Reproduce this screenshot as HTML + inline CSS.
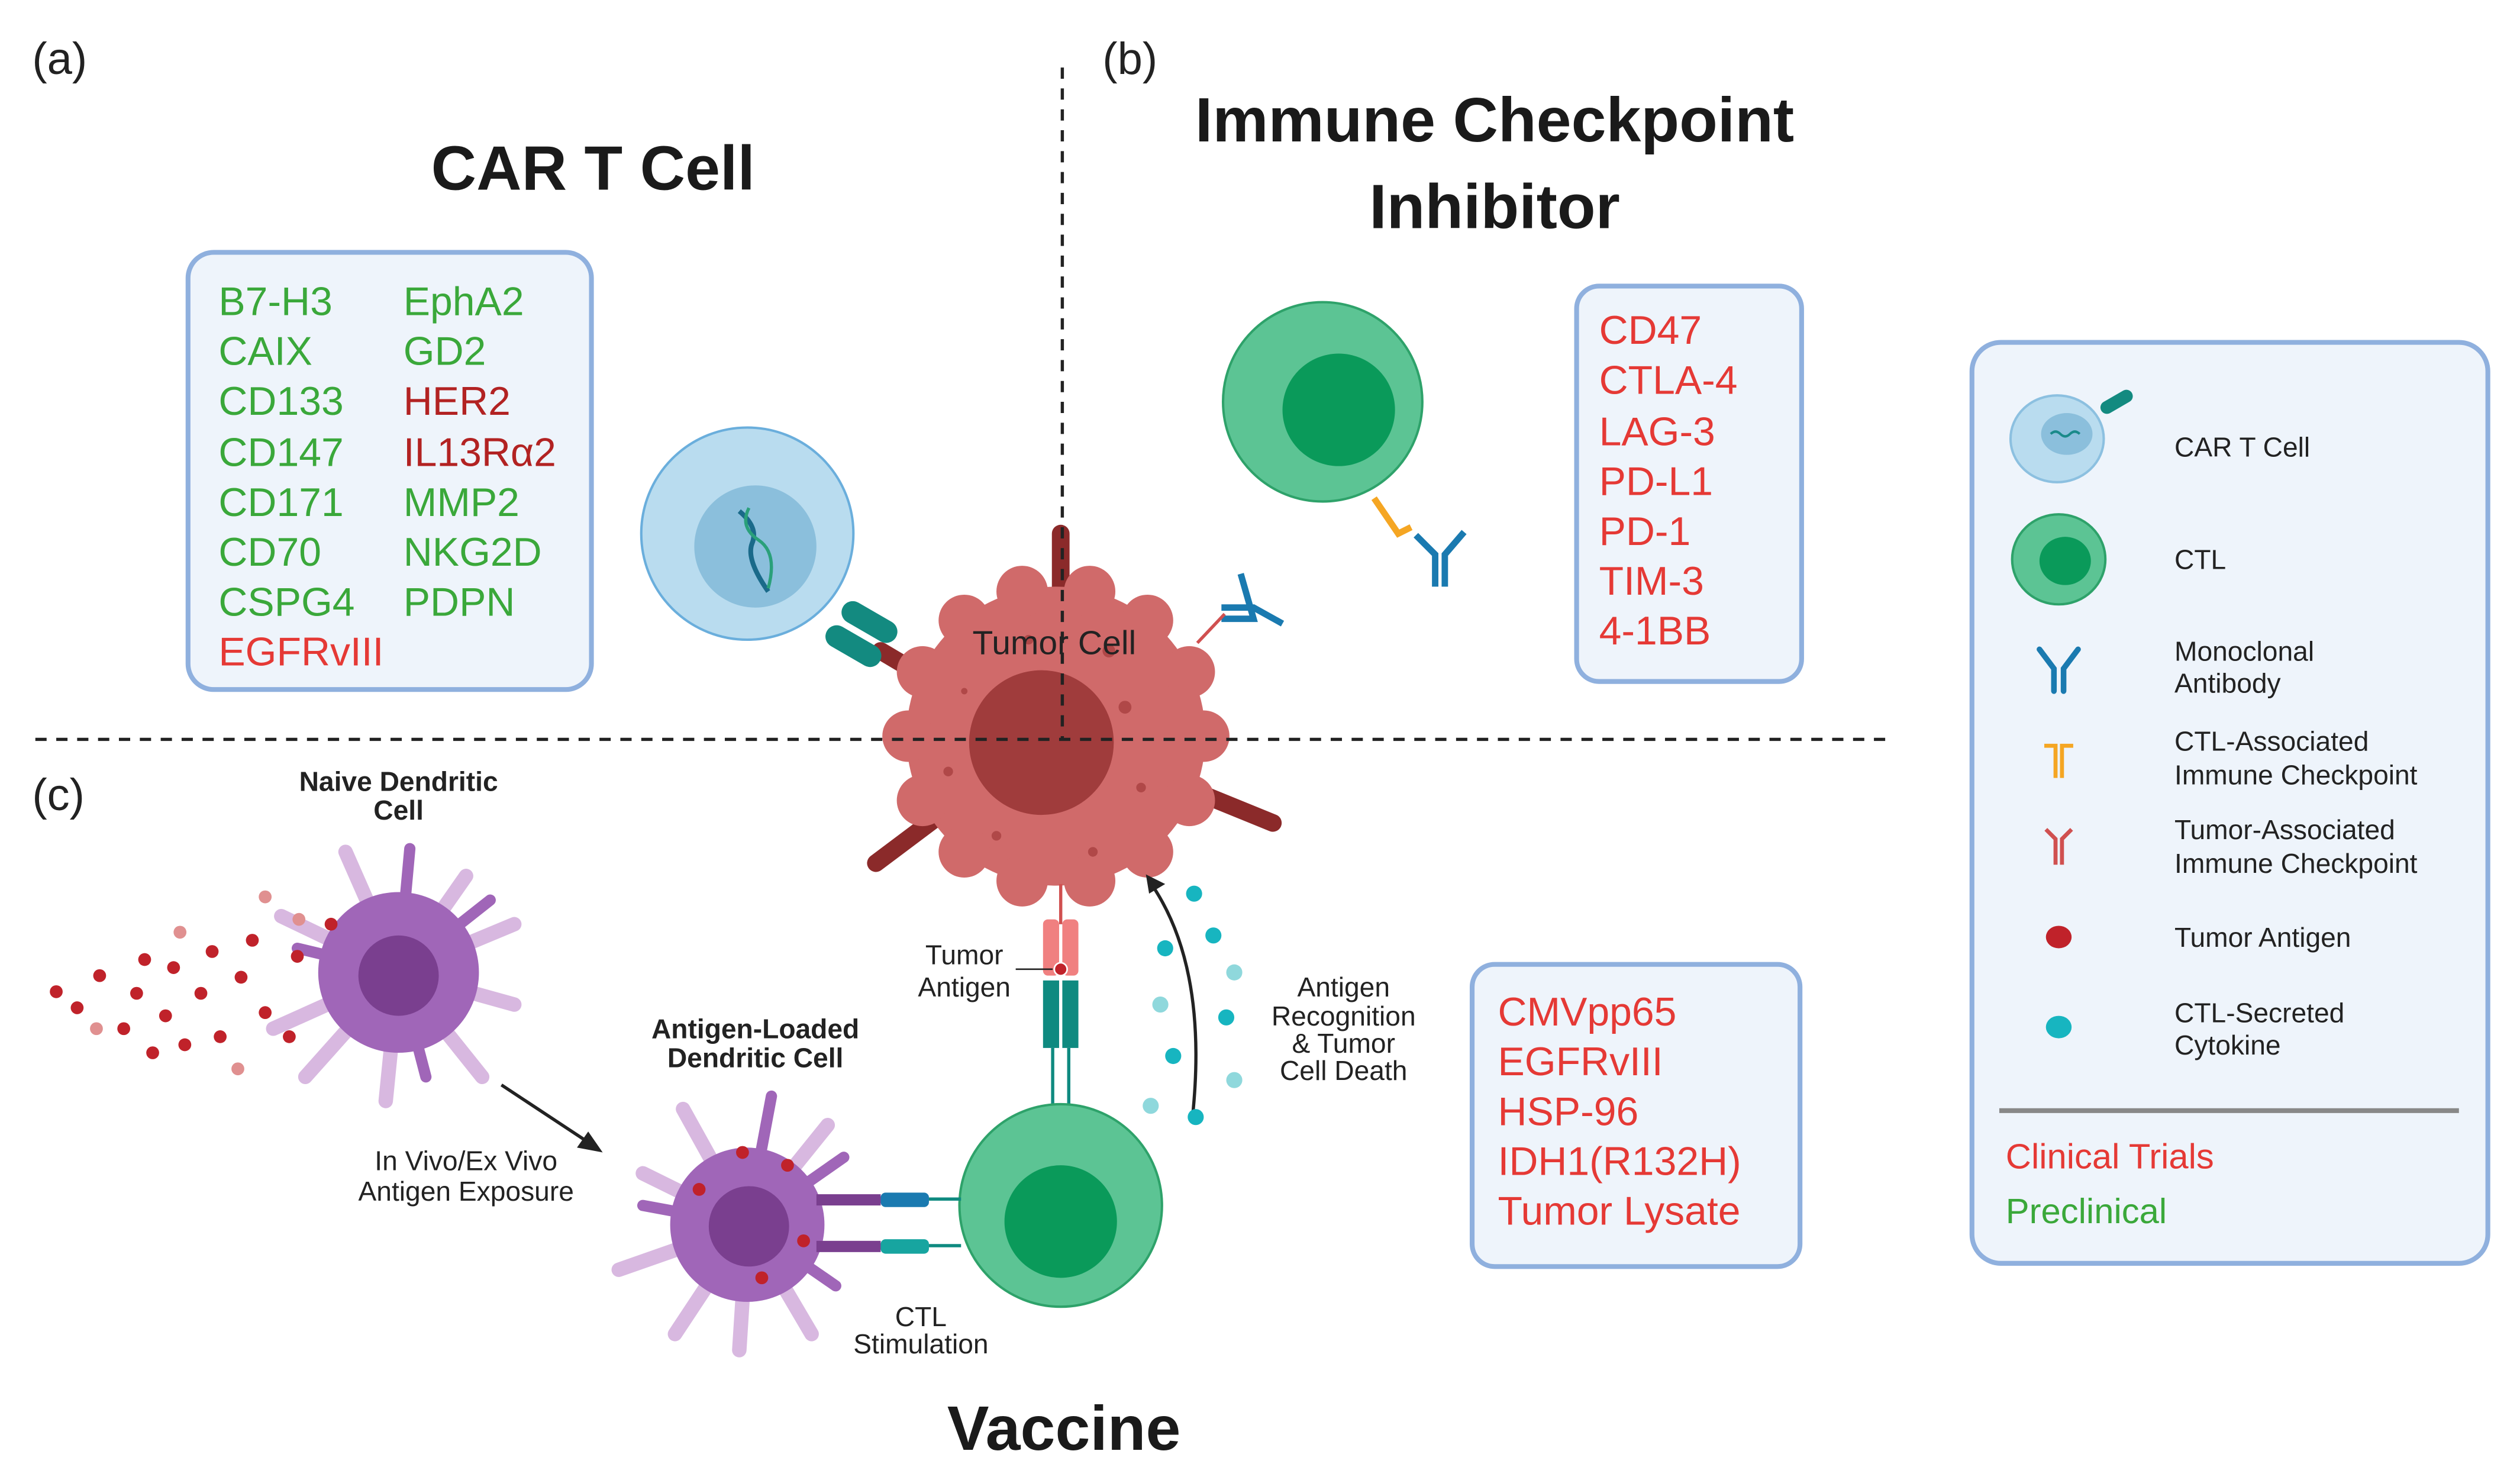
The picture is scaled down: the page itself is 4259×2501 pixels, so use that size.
<!DOCTYPE html>
<html><head><meta charset="utf-8"><style>
html,body{margin:0;padding:0;background:#fff;}
svg{display:block;}
text{font-family:"Liberation Sans",sans-serif;}
</style></head><body>
<svg width="4259" height="2501" viewBox="0 0 1568 920.8" preserveAspectRatio="none" xmlns="http://www.w3.org/2000/svg">
<rect width="1568" height="921" fill="#fff"/>

<text x="20" y="46" font-size="28" fill="#222">(a)</text>
<text x="686" y="46" font-size="28" fill="#222">(b)</text>
<text x="20" y="504" font-size="28" fill="#222">(c)</text>

<text x="369" y="118" font-size="39" font-weight="bold" fill="#1a1a1a" text-anchor="middle">CAR T Cell</text>
<text x="930" y="88" font-size="39" font-weight="bold" fill="#1a1a1a" text-anchor="middle">Immune Checkpoint</text>
<text x="930" y="142" font-size="39" font-weight="bold" fill="#1a1a1a" text-anchor="middle">Inhibitor</text>
<text x="662" y="902" font-size="39" font-weight="bold" fill="#1a1a1a" text-anchor="middle">Vaccine</text>

<rect x="117" y="157" width="251" height="272" rx="16" fill="#eef4fb" stroke="#8fb0de" stroke-width="3"/>
<g font-size="25">
<text x="136" y="196" fill="#3aa83a">B7-H3</text>
<text x="136" y="227" fill="#3aa83a">CAIX</text>
<text x="136" y="258" fill="#3aa83a">CD133</text>
<text x="136" y="290" fill="#3aa83a">CD147</text>
<text x="136" y="321" fill="#3aa83a">CD171</text>
<text x="136" y="352" fill="#3aa83a">CD70</text>
<text x="136" y="383" fill="#3aa83a">CSPG4</text>
<text x="136" y="414" fill="#e53935">EGFRvIII</text>
<text x="251" y="196" fill="#3aa83a">EphA2</text>
<text x="251" y="227" fill="#3aa83a">GD2</text>
<text x="251" y="258" fill="#b22222">HER2</text>
<text x="251" y="290" fill="#b22222">IL13Rα2</text>
<text x="251" y="321" fill="#3aa83a">MMP2</text>
<text x="251" y="352" fill="#3aa83a">NKG2D</text>
<text x="251" y="383" fill="#3aa83a">PDPN</text>
</g>

<rect x="981" y="178" width="140" height="246" rx="14" fill="#eef4fb" stroke="#8fb0de" stroke-width="3"/>
<g font-size="25" fill="#e53935">
<text x="995" y="214">CD47</text>
<text x="995" y="245">CTLA-4</text>
<text x="995" y="277">LAG-3</text>
<text x="995" y="308">PD-L1</text>
<text x="995" y="339">PD-1</text>
<text x="995" y="370">TIM-3</text>
<text x="995" y="401">4-1BB</text>
</g>

<rect x="916" y="600" width="204" height="188" rx="14" fill="#eef4fb" stroke="#8fb0de" stroke-width="3"/>
<g font-size="25" fill="#e53935">
<text x="932" y="638">CMVpp65</text>
<text x="932" y="669">EGFRvIII</text>
<text x="932" y="700">HSP-96</text>
<text x="932" y="731">IDH1(R132H)</text>
<text x="932" y="762">Tumor Lysate</text>
</g>

<rect x="1227" y="213" width="321" height="573" rx="18" fill="#eef4fb" stroke="#8fb0de" stroke-width="3"/>
<ellipse cx="1280" cy="273" rx="29" ry="27" fill="#b9dcef" stroke="#8cc0e0" stroke-width="1.5"/>
<ellipse cx="1286" cy="270" rx="16" ry="13" fill="#8bbfdc"/>
<path d="M1276 270 q3 -3 6 0 t6 0 t6 0" stroke="#1a8a8a" stroke-width="1.5" fill="none"/>
<rect x="1306" y="246" width="22" height="8" rx="4" fill="#138a80" transform="rotate(-30 1317 250)"/>
<text x="1353" y="284" font-size="17" fill="#222">CAR T Cell</text>
<ellipse cx="1281" cy="348" rx="29" ry="28" fill="#5cc494" stroke="#2ea26a" stroke-width="1.5"/>
<ellipse cx="1285" cy="349" rx="16" ry="15" fill="#0a9a5a"/>
<text x="1353" y="354" font-size="17" fill="#222">CTL</text>
<g stroke="#1a7ab0" stroke-width="3.5" fill="none" stroke-linecap="round">
<path d="M1278 430 v-14 l-9 -12"/><path d="M1284 430 v-14 l9 -12"/>
</g>
<text x="1353" y="411" font-size="17" fill="#222">Monoclonal</text>
<text x="1353" y="431" font-size="17" fill="#222">Antibody</text>
<g stroke="#f5a623" stroke-width="2.5" fill="none">
<path d="M1279 484 v-20 h-7"/><path d="M1283 484 v-20 h7"/>
</g>
<text x="1353" y="467" font-size="17" fill="#222">CTL-Associated</text>
<text x="1353" y="488" font-size="17" fill="#222">Immune Checkpoint</text>
<g stroke="#d05050" stroke-width="2.5" fill="none">
<path d="M1279 538 v-16 l-6 -6"/><path d="M1283 538 v-16 l6 -6"/>
</g>
<text x="1353" y="522" font-size="17" fill="#222">Tumor-Associated</text>
<text x="1353" y="543" font-size="17" fill="#222">Immune Checkpoint</text>
<ellipse cx="1281" cy="583" rx="8" ry="7" fill="#c0222a"/>
<text x="1353" y="589" font-size="17" fill="#222">Tumor Antigen</text>
<ellipse cx="1281" cy="639" rx="8" ry="7" fill="#17b5c0"/>
<text x="1353" y="636" font-size="17" fill="#222">CTL-Secreted</text>
<text x="1353" y="656" font-size="17" fill="#222">Cytokine</text>
<line x1="1244" y1="691" x2="1530" y2="691" stroke="#888" stroke-width="3"/>
<text x="1248" y="727" font-size="22" fill="#e53935">Clinical Trials</text>
<text x="1248" y="761" font-size="22" fill="#3aa83a">Preclinical</text>

<g stroke="#8b2a2a" stroke-width="11" stroke-linecap="round">
<line x1="660" y1="332" x2="660" y2="385"/>
<line x1="548" y1="405" x2="590" y2="430"/>
<line x1="545" y1="537" x2="585" y2="507"/>
<line x1="738" y1="490" x2="792" y2="512"/>
</g>
<g fill="#d06a6a">
<circle cx="657" cy="458" r="93"/>
<circle cx="749" cy="458" r="16"/><circle cx="740" cy="498" r="16"/><circle cx="714" cy="530" r="16"/>
<circle cx="678" cy="548" r="16"/><circle cx="636" cy="548" r="16"/><circle cx="600" cy="530" r="16"/>
<circle cx="574" cy="498" r="16"/><circle cx="565" cy="458" r="16"/><circle cx="574" cy="418" r="16"/>
<circle cx="600" cy="386" r="16"/><circle cx="636" cy="368" r="16"/><circle cx="678" cy="368" r="16"/>
<circle cx="714" cy="386" r="16"/><circle cx="740" cy="418" r="16"/>
</g>
<circle cx="648" cy="462" r="45" fill="#a03c3c"/>
<g fill="#b04848"><circle cx="590" cy="480" r="3"/><circle cx="700" cy="440" r="4"/><circle cx="620" cy="520" r="3"/><circle cx="680" cy="530" r="3"/><circle cx="600" cy="430" r="2"/><circle cx="710" cy="490" r="3"/><circle cx="640" cy="398" r="3"/><circle cx="690" cy="405" r="4"/></g>

<!-- dashed dividers on top -->
<line x1="661" y1="42" x2="661" y2="460" stroke="#222" stroke-width="2" stroke-dasharray="7,6"/>
<line x1="22" y1="460" x2="1175" y2="460" stroke="#222" stroke-width="2" stroke-dasharray="7,6"/>
<text x="656" y="407" font-size="21" fill="#222" text-anchor="middle">Tumor Cell</text>

<circle cx="465" cy="332" r="66" fill="#b9dcef" stroke="#6aaedc" stroke-width="1.5"/>
<circle cx="470" cy="340" r="38" fill="#8bbfdc"/>
<path d="M460 318 q12 10 8 20 t10 30" stroke="#1a6a8a" stroke-width="3" fill="none"/>
<path d="M466 316 q-6 12 6 20 t6 30" stroke="#2aa07a" stroke-width="2" fill="none"/>
<rect x="522" y="380" width="38" height="14" rx="7" fill="#138a80" transform="rotate(30 541 387)"/>
<rect x="512" y="395" width="38" height="14" rx="7" fill="#138a80" transform="rotate(30 531 402)"/>
<g stroke="#1a7ab0" stroke-width="4" fill="none"><path d="M760 378 h20 l18 10"/><path d="M760 385 h20 l-8 -28"/></g>
<line x1="745" y1="400" x2="762" y2="382" stroke="#d05050" stroke-width="2"/>

<circle cx="823" cy="250" r="62" fill="#5cc494" stroke="#2ea26a" stroke-width="1.5"/>
<circle cx="833" cy="255" r="35" fill="#0a9a5a"/>
<path d="M855 310 l15 22 l8 -4" stroke="#f5a623" stroke-width="4" fill="none"/>
<g stroke="#1a7ab0" stroke-width="4" fill="none"><path d="M893 365 v-20 l-12 -12"/><path d="M899 365 v-20 l12 -14"/></g>

<line x1="660" y1="550" x2="660" y2="575" stroke="#d05050" stroke-width="2"/>
<rect x="649" y="572" width="10" height="35" rx="3" fill="#f08080"/>
<rect x="661" y="572" width="10" height="35" rx="3" fill="#f08080"/>
<circle cx="660" cy="603" r="4" fill="#c0222a" stroke="#fff"/>
<rect x="649" y="610" width="10" height="42" fill="#0f8a80"/>
<rect x="661" y="610" width="10" height="42" fill="#0f8a80"/>
<line x1="655" y1="652" x2="655" y2="688" stroke="#0f8a80" stroke-width="2"/>
<line x1="665" y1="652" x2="665" y2="688" stroke="#0f8a80" stroke-width="2"/>
<line x1="632" y1="603" x2="655" y2="603" stroke="#222" stroke-width="1"/>
<text x="600" y="600" font-size="17" fill="#222" text-anchor="middle">Tumor</text>
<text x="600" y="620" font-size="17" fill="#222" text-anchor="middle">Antigen</text>

<circle cx="660" cy="750" r="63" fill="#5cc494" stroke="#2ea26a" stroke-width="1.5"/>
<circle cx="660" cy="760" r="35" fill="#0a9a5a"/>

<path d="M742 695 Q752 600 715 548" stroke="#222" stroke-width="2" fill="none"/>
<path d="M713 544 l12 6 l-10 6 z" fill="#222"/>
<g fill="#17b5c0"><circle cx="743" cy="556" r="5"/><circle cx="755" cy="582" r="5"/><circle cx="725" cy="590" r="5"/><circle cx="763" cy="633" r="5"/><circle cx="730" cy="657" r="5"/><circle cx="744" cy="695" r="5"/></g>
<g fill="#8fd8dc"><circle cx="768" cy="605" r="5"/><circle cx="722" cy="625" r="5"/><circle cx="768" cy="672" r="5"/><circle cx="716" cy="688" r="5"/></g>
<g font-size="17" fill="#222" text-anchor="middle">
<text x="836" y="620">Antigen</text><text x="836" y="638">Recognition</text><text x="836" y="655">&amp; Tumor</text><text x="836" y="672">Cell Death</text>
</g>

<g stroke="#d8b8e0" stroke-width="9" stroke-linecap="round">
<line x1="248" y1="605" x2="215" y2="530"/><line x1="248" y1="605" x2="290" y2="545"/><line x1="248" y1="605" x2="320" y2="575"/>
<line x1="248" y1="605" x2="320" y2="625"/><line x1="248" y1="605" x2="300" y2="670"/><line x1="248" y1="605" x2="240" y2="685"/>
<line x1="248" y1="605" x2="190" y2="670"/><line x1="248" y1="605" x2="170" y2="640"/><line x1="248" y1="605" x2="175" y2="570"/>
</g>
<g stroke="#a066b8" stroke-width="7" stroke-linecap="round">
<line x1="248" y1="605" x2="255" y2="528"/><line x1="248" y1="605" x2="305" y2="560"/><line x1="248" y1="605" x2="185" y2="590"/><line x1="248" y1="605" x2="265" y2="670"/>
</g>
<circle cx="248" cy="605" r="50" fill="#a066b8"/>
<circle cx="248" cy="607" r="25" fill="#7a3f8f"/>
<text x="248" y="492" font-size="17" font-weight="bold" fill="#222" text-anchor="middle">Naive Dendritic</text>
<text x="248" y="510" font-size="17" font-weight="bold" fill="#222" text-anchor="middle">Cell</text>
<g fill="#c0222a">
<circle cx="35" cy="617" r="4"/><circle cx="48" cy="627" r="4"/><circle cx="62" cy="607" r="4"/><circle cx="77" cy="640" r="4"/><circle cx="85" cy="618" r="4"/><circle cx="90" cy="597" r="4"/><circle cx="103" cy="632" r="4"/><circle cx="108" cy="602" r="4"/><circle cx="95" cy="655" r="4"/><circle cx="125" cy="618" r="4"/><circle cx="132" cy="592" r="4"/><circle cx="137" cy="645" r="4"/><circle cx="150" cy="608" r="4"/><circle cx="115" cy="650" r="4"/><circle cx="157" cy="585" r="4"/><circle cx="165" cy="630" r="4"/><circle cx="180" cy="645" r="4"/><circle cx="185" cy="595" r="4"/><circle cx="206" cy="575" r="4"/>
</g>
<g fill="#e09090"><circle cx="165" cy="558" r="4"/><circle cx="148" cy="665" r="4"/><circle cx="112" cy="580" r="4"/><circle cx="60" cy="640" r="4"/><circle cx="186" cy="572" r="4"/></g>

<line x1="312" y1="675" x2="365" y2="710" stroke="#222" stroke-width="2"/>
<path d="M375 717 l-16 -3 l7 -10 z" fill="#222"/>
<text x="290" y="728" font-size="17" fill="#222" text-anchor="middle">In Vivo/Ex Vivo</text>
<text x="290" y="747" font-size="17" fill="#222" text-anchor="middle">Antigen Exposure</text>

<g stroke="#d8b8e0" stroke-width="9" stroke-linecap="round">
<line x1="465" y1="762" x2="425" y2="690"/><line x1="465" y1="762" x2="515" y2="700"/><line x1="465" y1="762" x2="385" y2="790"/>
<line x1="465" y1="762" x2="400" y2="730"/><line x1="465" y1="762" x2="420" y2="830"/><line x1="465" y1="762" x2="460" y2="840"/><line x1="465" y1="762" x2="505" y2="830"/>
</g>
<g stroke="#a066b8" stroke-width="7" stroke-linecap="round">
<line x1="465" y1="762" x2="480" y2="682"/><line x1="465" y1="762" x2="525" y2="720"/><line x1="465" y1="762" x2="400" y2="750"/><line x1="465" y1="762" x2="520" y2="800"/>
</g>
<circle cx="465" cy="762" r="48" fill="#a066b8"/>
<circle cx="466" cy="763" r="25" fill="#7a3f8f"/>
<g fill="#c0222a"><circle cx="462" cy="717" r="4"/><circle cx="490" cy="725" r="4"/><circle cx="435" cy="740" r="4"/><circle cx="474" cy="795" r="4"/><circle cx="500" cy="772" r="4"/></g>
<text x="470" y="646" font-size="17" font-weight="bold" fill="#222" text-anchor="middle">Antigen-Loaded</text>
<text x="470" y="664" font-size="17" font-weight="bold" fill="#222" text-anchor="middle">Dendritic Cell</text>
<g>
<rect x="508" y="743" width="40" height="7" fill="#7a3f8f"/><rect x="548" y="742" width="30" height="9" rx="3" fill="#1a7ab0"/>
<line x1="578" y1="746" x2="598" y2="746" stroke="#0f8a80" stroke-width="2"/>
<rect x="508" y="772" width="40" height="7" fill="#7a3f8f"/><rect x="548" y="771" width="30" height="9" rx="3" fill="#17a5a0"/>
<line x1="578" y1="775" x2="598" y2="775" stroke="#0f8a80" stroke-width="2"/>
</g>
<text x="573" y="825" font-size="17" fill="#222" text-anchor="middle">CTL</text>
<text x="573" y="842" font-size="17" fill="#222" text-anchor="middle">Stimulation</text>
</svg>
</body></html>
